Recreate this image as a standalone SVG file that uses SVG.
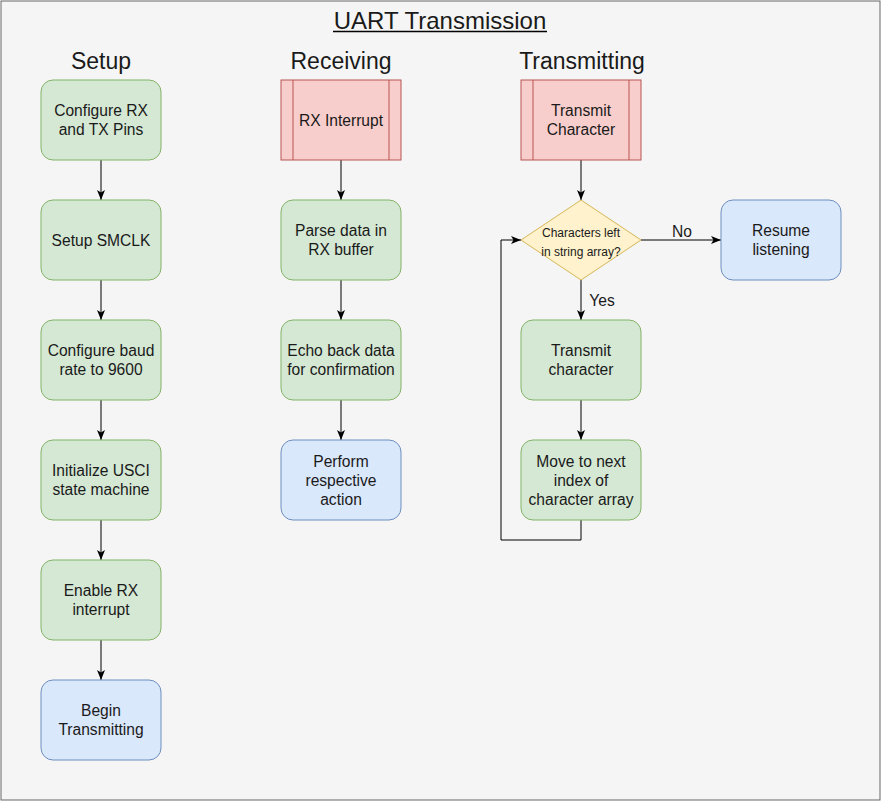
<svg xmlns="http://www.w3.org/2000/svg" width="881" height="801" viewBox="0 0 881 801">
<style>
text{font-family:"Liberation Sans",Arial,Helvetica,sans-serif;fill:#1a1a1a;text-anchor:middle}
.n{font-size:15.6px}
.h{font-size:23px}
.g{fill:#d5e8d4;stroke:#82b366}
.b{fill:#dae8fc;stroke:#6c8ebf}
.r{fill:#f8cecc;stroke:#b85450}
.y{fill:#fff2cc;stroke:#d6b656}
.e{fill:none;stroke:#000;stroke-width:1}
</style>
<defs>
<marker id="a" viewBox="0 0 10 10" refX="10" refY="5" markerWidth="10" markerHeight="10" markerUnits="userSpaceOnUse" orient="auto">
<path d="M0,1 L10,5 L0,9 L2.5,5 Z" fill="#000"/>
</marker>
</defs>
<rect x="1" y="1" width="879" height="799" fill="#f5f5f5" stroke="#666"/>
<text x="440" y="29" font-size="24">UART Transmission</text>
<line x1="333" y1="31.5" x2="547" y2="31.5" stroke="#000" stroke-width="1.6"/>
<text class="h" x="101" y="69">Setup</text>
<text class="h" x="341" y="69">Receiving</text>
<text class="h" x="582" y="69">Transmitting</text>

<g id="edges">
<path class="e" d="M101,160 V200" marker-end="url(#a)"/>
<path class="e" d="M101,280 V320" marker-end="url(#a)"/>
<path class="e" d="M101,400 V440" marker-end="url(#a)"/>
<path class="e" d="M101,520 V560" marker-end="url(#a)"/>
<path class="e" d="M101,640 V680" marker-end="url(#a)"/>
<path class="e" d="M341,160 V200" marker-end="url(#a)"/>
<path class="e" d="M341,280 V320" marker-end="url(#a)"/>
<path class="e" d="M341,400 V440" marker-end="url(#a)"/>
<path class="e" d="M581,160 V200" marker-end="url(#a)"/>
<path class="e" d="M641,240 H721" marker-end="url(#a)"/>
<path class="e" d="M581,280 V320" marker-end="url(#a)"/>
<path class="e" d="M581,400 V440" marker-end="url(#a)"/>
<path class="e" d="M581,520 V540 H501 V240 H521" marker-end="url(#a)"/>
<text class="n" x="682" y="237">No</text>
<text class="n" x="602" y="306">Yes</text>
</g>

<g id="s1"><rect class="g" x="41" y="80" width="120" height="80" rx="12"/><text class="n" x="101" y="116">Configure RX</text><text class="n" x="101" y="135">and TX Pins</text></g>
<g id="s2"><rect class="g" x="41" y="200" width="120" height="80" rx="12"/><text class="n" x="101" y="246">Setup SMCLK</text></g>
<g id="s3"><rect class="g" x="41" y="320" width="120" height="80" rx="12"/><text class="n" x="101" y="356">Configure baud</text><text class="n" x="101" y="375">rate to 9600</text></g>
<g id="s4"><rect class="g" x="41" y="440" width="120" height="80" rx="12"/><text class="n" x="101" y="476">Initialize USCI</text><text class="n" x="101" y="495">state machine</text></g>
<g id="s5"><rect class="g" x="41" y="560" width="120" height="80" rx="12"/><text class="n" x="101" y="596">Enable RX</text><text class="n" x="101" y="615">interrupt</text></g>
<g id="s6"><rect class="b" x="41" y="680" width="120" height="80" rx="12"/><text class="n" x="101" y="716">Begin</text><text class="n" x="101" y="735">Transmitting</text></g>

<g id="r1"><rect class="r" x="281" y="80" width="120" height="80"/><line class="r" x1="293" y1="80" x2="293" y2="160"/><line class="r" x1="389" y1="80" x2="389" y2="160"/><text class="n" x="341" y="126">RX Interrupt</text></g>
<g id="r2"><rect class="g" x="281" y="200" width="120" height="80" rx="12"/><text class="n" x="341" y="236">Parse data in</text><text class="n" x="341" y="255">RX buffer</text></g>
<g id="r3"><rect class="g" x="281" y="320" width="120" height="80" rx="12"/><text class="n" x="341" y="356">Echo back data</text><text class="n" x="341" y="375">for confirmation</text></g>
<g id="r4"><rect class="b" x="281" y="440" width="120" height="80" rx="12"/><text class="n" x="341" y="467">Perform</text><text class="n" x="341" y="486">respective</text><text class="n" x="341" y="505">action</text></g>

<g id="t1"><rect class="r" x="521" y="80" width="120" height="80"/><line class="r" x1="533" y1="80" x2="533" y2="160"/><line class="r" x1="629" y1="80" x2="629" y2="160"/><text class="n" x="581" y="116">Transmit</text><text class="n" x="581" y="135">Character</text></g>
<g id="t2"><polygon class="y" points="521,240 581,200 641,240 581,280"/><text x="581" y="237" font-size="12">Characters left</text><text x="581" y="256" font-size="12">in string array?</text></g>
<g id="t3"><rect class="g" x="521" y="320" width="120" height="80" rx="12"/><text class="n" x="581" y="356">Transmit</text><text class="n" x="581" y="375">character</text></g>
<g id="t4"><rect class="g" x="521" y="440" width="120" height="80" rx="12"/><text class="n" x="581" y="467">Move to next</text><text class="n" x="581" y="486">index of</text><text class="n" x="581" y="505">character array</text></g>
<g id="t5"><rect class="b" x="721" y="200" width="120" height="80" rx="12"/><text class="n" x="781" y="236">Resume</text><text class="n" x="781" y="255">listening</text></g>
</svg>
